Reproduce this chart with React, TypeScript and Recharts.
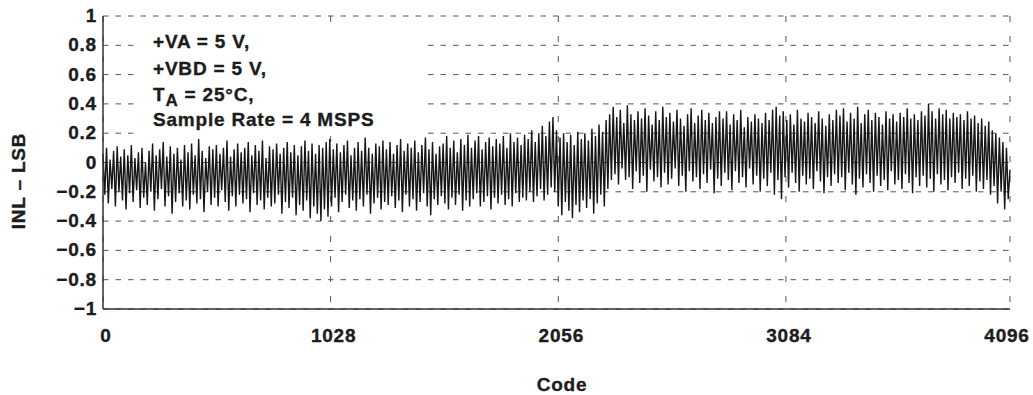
import React from 'react';
import { LineChart, Line, XAxis, YAxis, CartesianGrid } from 'recharts';

// INL readings, one per 8 codes (0, 8, ... 4088) plus the last code 4096
const CODE_STEP = 8;
const inl = [
  0.06, -0.22, 0.1, -0.28, 0.02, -0.18, 0.08, -0.3, 0.11, -0.2, 0.04, -0.26, 0.09, -0.32, 0.05, -0.21,
  0.12, -0.27, 0.03, -0.19, 0.07, -0.31, 0.1, -0.24, 0.0, -0.29, 0.08, -0.2, 0.13, -0.33, 0.05, -0.25,
  0.09, -0.18, 0.14, -0.3, 0.04, -0.23, 0.11, -0.35, 0.06, -0.27, 0.1, -0.21, 0.02, -0.3, 0.12, -0.26,
  0.07, -0.32, 0.13, -0.22, 0.05, -0.28, 0.16, -0.25, 0.08, -0.34, 0.03, -0.2, 0.11, -0.29, 0.09, -0.24,
  0.12, -0.3, 0.06, -0.19, 0.1, -0.27, 0.15, -0.33, 0.04, -0.23, 0.09, -0.3, 0.13, -0.22, 0.07, -0.28,
  0.1, -0.25, 0.14, -0.34, 0.05, -0.21, 0.12, -0.29, 0.08, -0.26, 0.15, -0.32, 0.03, -0.24, 0.11, -0.3,
  0.09, -0.28, 0.13, -0.22, 0.06, -0.35, 0.1, -0.27, 0.14, -0.31, 0.07, -0.24, 0.12, -0.36, 0.05, -0.29,
  0.11, -0.33, 0.15, -0.26, 0.08, -0.38, 0.13, -0.3, 0.06, -0.35, 0.12, -0.4, 0.1, -0.32, 0.14, -0.37,
  0.16, -0.3, 0.09, -0.24, 0.13, -0.34, 0.07, -0.27, 0.12, -0.22, 0.15, -0.31, 0.05, -0.26, 0.1, -0.33,
  0.14, -0.25, 0.08, -0.3, 0.17, -0.22, 0.1, -0.35, 0.06, -0.28, 0.13, -0.24, 0.11, -0.32, 0.15, -0.27,
  0.09, -0.29, 0.14, -0.23, 0.06, -0.31, 0.12, -0.26, 0.16, -0.34, 0.08, -0.22, 0.13, -0.3, 0.1, -0.25,
  0.15, -0.33, 0.07, -0.27, 0.12, -0.21, 0.17, -0.3, 0.09, -0.36, 0.14, -0.25, 0.06, -0.29, 0.11, -0.23,
  0.13, -0.28, 0.18, -0.32, 0.1, -0.24, 0.15, -0.29, 0.07, -0.22, 0.16, -0.33, 0.12, -0.26, 0.19, -0.3,
  0.1, -0.25, 0.15, -0.21, 0.18, -0.3, 0.09, -0.27, 0.14, -0.23, 0.17, -0.32, 0.11, -0.24, 0.16, -0.28,
  0.13, -0.22, 0.18, -0.29, 0.1, -0.25, 0.2, -0.3, 0.14, -0.21, 0.17, -0.27, 0.12, -0.24, 0.19, -0.26,
  0.16, -0.2, 0.22, -0.27, 0.14, -0.23, 0.2, -0.18, 0.25, -0.26, 0.18, -0.22, 0.28, -0.17, 0.31, -0.2,
  0.22, -0.3, 0.17, -0.36, 0.2, -0.27, 0.14, -0.33, 0.19, -0.38, 0.12, -0.29, 0.21, -0.34, 0.16, -0.26,
  0.2, -0.31, 0.15, -0.25, 0.23, -0.35, 0.18, -0.28, 0.26, -0.22, 0.21, -0.3, 0.29, -0.18, 0.33, -0.12,
  0.38, -0.08, 0.31, -0.15, 0.36, -0.04, 0.27, -0.12, 0.39, -0.1, 0.33, -0.18, 0.29, -0.06, 0.35, -0.14,
  0.3, -0.09, 0.37, -0.2, 0.32, -0.05, 0.26, -0.13, 0.35, -0.1, 0.29, -0.17, 0.38, -0.07, 0.31, -0.15,
  0.34, -0.11, 0.28, -0.04, 0.36, -0.16, 0.3, -0.09, 0.25, -0.2, 0.33, -0.06, 0.37, -0.13, 0.27, -0.1,
  0.32, -0.18, 0.36, -0.08, 0.29, -0.14, 0.34, -0.05, 0.27, -0.21, 0.31, -0.11, 0.35, -0.16, 0.3, -0.07,
  0.35, -0.12, 0.26, -0.19, 0.33, -0.06, 0.29, -0.14, 0.36, -0.1, 0.24, -0.17, 0.31, -0.04, 0.28, -0.15,
  0.33, -0.09, 0.3, -0.2, 0.27, -0.11, 0.34, -0.16, 0.29, -0.07, 0.36, -0.22, 0.38, -0.12, 0.32, -0.25,
  0.35, -0.1, 0.29, -0.17, 0.33, -0.07, 0.26, -0.14, 0.36, -0.2, 0.3, -0.09, 0.28, -0.15, 0.34, -0.11,
  0.31, -0.18, 0.27, -0.06, 0.35, -0.13, 0.3, -0.21, 0.25, -0.1, 0.33, -0.16, 0.29, -0.08, 0.36, -0.14,
  0.32, -0.1, 0.37, -0.19, 0.28, -0.07, 0.34, -0.15, 0.3, -0.22, 0.38, -0.11, 0.27, -0.17, 0.33, -0.08,
  0.36, -0.14, 0.29, -0.2, 0.34, -0.09, 0.31, -0.16, 0.26, -0.12, 0.35, -0.19, 0.3, -0.06, 0.33, -0.15,
  0.28, -0.12, 0.34, -0.18, 0.31, -0.08, 0.37, -0.14, 0.3, -0.21, 0.33, -0.1, 0.29, -0.16, 0.35, -0.09,
  0.32, -0.17, 0.4, -0.11, 0.35, -0.2, 0.3, -0.08, 0.37, -0.15, 0.33, -0.12, 0.36, -0.19, 0.3, -0.1,
  0.34, -0.14, 0.31, -0.07, 0.33, -0.18, 0.29, -0.11, 0.35, -0.16, 0.3, -0.09, 0.32, -0.2, 0.27, -0.13,
  0.3, -0.18, 0.25, -0.12, 0.28, -0.22, 0.22, -0.16, 0.2, -0.28, 0.17, -0.2, 0.14, -0.32, 0.1, -0.25,
  -0.05,
];

const xTicks = [0, 1028, 2056, 3084, 4096];
const yTicks = [-1, -0.8, -0.6, -0.4, -0.2, 0, 0.2, 0.4, 0.6, 0.8, 1];
const notes = ['+VA = 5 V,', '+VBD = 5 V,'];

const data = inl.map((v, i) => ({ code: Math.min(i * CODE_STEP, 4096), inl: v }));

const FONT = '"Liberation Sans", Arial, Helvetica, sans-serif';
const INK = '#1c1c1c';
const textStyle = {
  fontFamily: FONT, fontWeight: 700, fontSize: 19, letterSpacing: 0.8,
  fill: INK, stroke: INK, strokeWidth: 0.35,
};

const fmtY = (v: number) => {
  if (v === 0) return '0';
  const s = Math.abs(v) === 1 ? '1' : Math.abs(v).toFixed(1);
  return v < 0 ? '\u2212' + s : s;
};

const YTick = ({ x, y, payload }: any) => (
  <text x={x} y={y + 6} textAnchor="end" style={textStyle}>{fmtY(payload.value)}</text>
);

const XTick = ({ x, y, payload }: any) => (
  <text x={x + (payload.value === 4096 ? -3 : 3)} y={y + 7} textAnchor="middle" style={textStyle}>
    {payload.value}
  </text>
);

const htmlText = {
  fontFamily: FONT, fontWeight: 700, fontSize: 19, letterSpacing: 0.8, color: INK,
  WebkitTextStroke: '0.35px ' + INK, whiteSpace: 'nowrap' as const,
};

export default function App() {
  return (
    <div style={{ position: 'absolute', left: 0, top: 0, width: 1033, height: 395, background: '#fff' }}>
      <LineChart width={1033} height={395} data={data} margin={{ top: 16, right: 23, bottom: 0, left: 0 }}>
        <CartesianGrid horizontal={true} vertical={false} stroke="#555" strokeDasharray="5.5 7" />
        <CartesianGrid horizontal={false} vertical={true} stroke="#555" strokeDasharray="6 14" />
        <XAxis
          dataKey="code"
          type="number"
          domain={[0, 4096]}
          ticks={xTicks}
          interval={0}
          height={86}
          tickSize={0}
          tickMargin={26}
          tick={<XTick />}
          axisLine={{ stroke: '#333', strokeWidth: 1.5 }}
        />
        <XAxis xAxisId="top" orientation="top" type="number" domain={[0, 4096]} height={0} tick={false} tickLine={false} axisLine={{ stroke: '#333', strokeWidth: 1.5 }} />
        <YAxis
          type="number"
          domain={[-1, 1]}
          ticks={yTicks}
          interval={0}
          width={103}
          tickSize={0}
          tickMargin={6}
          tick={<YTick />}
          axisLine={{ stroke: '#333', strokeWidth: 1.5 }}
        />
        <YAxis yAxisId="right" orientation="right" type="number" domain={[-1, 1]} width={0} tick={false} tickLine={false} axisLine={{ stroke: '#333', strokeWidth: 1.5 }} />
        <Line type="linear" dataKey="inl" stroke="#161616" strokeWidth={1.4} dot={false} isAnimationActive={false} />
      </LineChart>

      <svg width={282} height={107} style={{ position: 'absolute', left: 140, top: 28 }}>
        <rect x={0} y={0} width={282} height={107} fill="#fff" />
        {notes.map((n, i) => (
          <text key={n} x={13} y={20 + i * 27} style={textStyle}>{n}</text>
        ))}
        <text x={13} y={73} style={textStyle}>
          T<tspan dy={5} fontSize={17}>A</tspan><tspan dy={-5}> = 25°C,</tspan>
        </text>
        <text x={13} y={98} style={textStyle}>Sample Rate = 4 MSPS</text>
      </svg>

      <div style={{ ...htmlText, position: 'absolute', left: 18.5, top: 181, transform: 'translate(-50%, -50%) rotate(-90deg)' }}>
        INL – LSB
      </div>
      <div style={{ ...htmlText, position: 'absolute', left: 562, top: 385, transform: 'translate(-50%, -50%)' }}>
        Code
      </div>
    </div>
  );
}
